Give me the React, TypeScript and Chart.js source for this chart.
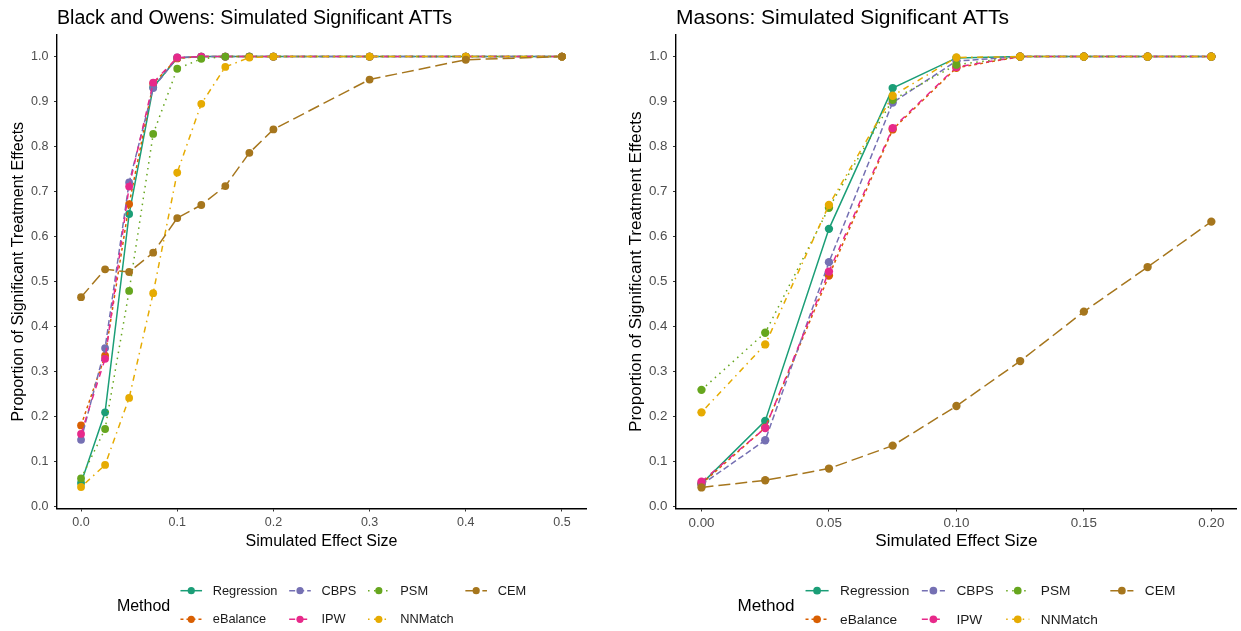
import React, { useEffect, useRef } from "react";
import { Chart, registerables } from "chart.js";

Chart.register(...registerables);

const FAMILY = '"Liberation Sans", Arial, Helvetica, sans-serif';

// Methods, in legend / drawing order
const METHODS = ["Regression", "eBalance", "CBPS", "IPW", "PSM", "NNMatch", "CEM"];
const COLORS = ["#1B9E77", "#D95F02", "#7570B3", "#E7298A", "#66A61E", "#E6AB02", "#A6761D"];
const DASHES: number[][] = [[], [3, 3], [6, 3], [6, 6], [1.5, 4.5], [1.5, 4.5, 6, 4.5], [12, 5]];

// Black and Owens simulation
const boEffect = [0, 0.025, 0.05, 0.075, 0.1, 0.125, 0.15, 0.175, 0.2, 0.3, 0.4, 0.5];
const boRegression = [0.052, 0.209, 0.65, 0.932, 0.997, 1, 1, 1, 1, 1, 1, 1];
const boEBalance = [0.18, 0.335, 0.672, 0.94, 0.996, 1, 1, 1, 1, 1, 1, 1];
const boCBPS = [0.148, 0.352, 0.72, 0.93, 0.998, 1, 1, 1, 1, 1, 1, 1];
const boIPW = [0.161, 0.328, 0.711, 0.942, 0.998, 1, 1, 1, 1, 1, 1, 1];
const boPSM = [0.062, 0.172, 0.479, 0.828, 0.973, 0.995, 1, 1, 1, 1, 1, 1];
const boNNMatch = [0.043, 0.092, 0.241, 0.474, 0.742, 0.895, 0.977, 0.998, 1, 1, 1, 1];
const boCEM = [0.465, 0.527, 0.521, 0.564, 0.641, 0.67, 0.712, 0.786, 0.838, 0.949, 0.993, 1];

// Masons simulation
const masonsEffect = [0, 0.025, 0.05, 0.075, 0.1, 0.125, 0.15, 0.175, 0.2];
const masonsRegression = [0.05, 0.19, 0.617, 0.93, 0.997, 1, 1, 1, 1];
const masonsEBalance = [0.05, 0.175, 0.513, 0.838, 0.975, 1, 1, 1, 1];
const masonsCBPS = [0.048, 0.147, 0.543, 0.898, 0.99, 1, 1, 1, 1];
const masonsIPW = [0.055, 0.174, 0.522, 0.841, 0.977, 1, 1, 1, 1];
const masonsPSM = [0.259, 0.386, 0.664, 0.904, 0.982, 1, 1, 1, 1];
const masonsNNMatch = [0.209, 0.36, 0.67, 0.913, 0.998, 1, 1, 1, 1];
const masonsCEM = [0.042, 0.058, 0.084, 0.135, 0.223, 0.323, 0.433, 0.532, 0.633];

// Axis ticks
const yTicks = [0, 0.1, 0.2, 0.3, 0.4, 0.5, 0.6, 0.7, 0.8, 0.9, 1.0];
const boXTicks = [0, 0.1, 0.2, 0.3, 0.4, 0.5];
const masonsXTicks = [0, 0.05, 0.1, 0.15, 0.2];

const Y_TITLE = "Proportion of Significant Treatment Effects";
const X_TITLE = "Simulated Effect Size";
const LEGEND_TITLE = "Method";

const W = 1241;
const H = 631;

// Panel title drawn flush with the left edge of the plotting area
const titlePlugin = {
  id: "panelTitle",
  afterDraw(chart: any, _args: any, opts: any) {
    const { ctx, chartArea } = chart;
    ctx.save();
    ctx.fillStyle = "#000";
    ctx.font = `${19.6 * opts.s}px ${FAMILY}`;
    ctx.textBaseline = "alphabetic";
    ctx.textAlign = "left";
    ctx.fillText(opts.text, chartArea.left, opts.baseline);
    ctx.restore();
  },
};

// Two-row legend below the panel, columns filled top to bottom
const legendPlugin = {
  id: "methodLegend",
  afterDraw(chart: any, _args: any, opts: any) {
    const { ctx, chartArea } = chart;
    const s = opts.s;
    const labelFont = `${12.8 * s}px ${FAMILY}`;
    const titleFont = `${16 * s}px ${FAMILY}`;
    ctx.save();
    ctx.font = titleFont;
    const titleW = ctx.measureText(LEGEND_TITLE).width;
    ctx.font = labelFont;
    const cols = [[0, 1], [2, 3], [4, 5], [6]];
    const colW = cols.map((c) => Math.max(...c.map((i) => ctx.measureText(METHODS[i]).width)));
    const dotToText = 21.5 * s;
    const textToDot = 22.5 * s;
    const titleToDot = 21 * s;
    const total =
      titleW + titleToDot + colW.reduce((a, w) => a + dotToText + w, 0) + textToDot * (cols.length - 1);
    let x = (chartArea.left + chartArea.right) / 2 - total / 2;
    const rows = [590.7, 619.3];

    ctx.fillStyle = "#000";
    ctx.font = titleFont;
    ctx.textBaseline = "middle";
    ctx.textAlign = "left";
    ctx.fillText(LEGEND_TITLE, x, 606.5);
    x += titleW + titleToDot;

    cols.forEach((c, ci) => {
      const dot = x;
      c.forEach((mi, ri) => {
        const y = rows[ri];
        ctx.save();
        ctx.strokeStyle = COLORS[mi];
        ctx.lineWidth = 1.5;
        ctx.setLineDash(DASHES[mi]);
        ctx.beginPath();
        ctx.moveTo(dot - 10.8 * s, y);
        ctx.lineTo(dot + 10.8 * s, y);
        ctx.stroke();
        ctx.restore();
        ctx.fillStyle = COLORS[mi];
        ctx.beginPath();
        ctx.arc(dot, y, 3.6 * s, 0, Math.PI * 2);
        ctx.fill();
        ctx.fillStyle = "#1a1a1a";
        ctx.font = labelFont;
        ctx.fillText(METHODS[mi], dot + dotToText, y + 0.5);
      });
      x = dot + dotToText + colW[ci] + textToDot;
    });
    ctx.restore();
  },
};

type PanelProps = {
  title: string;
  effect: number[];
  series: number[][];
  xTicks: number[];
  xDecimals: number;
  xMin: number;
  xMax: number;
  s: number;
  yAxisWidth: number;
  padRight: number;
  yTitlePad: number;
  width: number;
  left: number;
};

function Panel(p: PanelProps) {
  const ref = useRef<HTMLCanvasElement | null>(null);

  useEffect(() => {
    if (!ref.current) return;
    const datasets = METHODS.map((m, i) => ({
      label: m,
      data: p.effect.map((x, j) => ({ x, y: p.series[i][j] })),
      borderColor: COLORS[i],
      backgroundColor: COLORS[i],
      borderDash: DASHES[i],
      borderWidth: 1.5,
      pointRadius: 3.9 * p.s,
      pointBorderWidth: 0,
      pointHoverRadius: 3.9 * p.s,
      tension: 0,
      fill: false,
      order: METHODS.length - i,
    }));

    const tickFont = { family: FAMILY, size: 12.5 * p.s };
    const titleFont = { family: FAMILY, size: 16 * p.s };
    const bottomPad = 71;
    const plotBottom = 508.5;

    const chart = new Chart(ref.current, {
      type: "line",
      data: { datasets },
      plugins: [titlePlugin, legendPlugin],
      options: {
        animation: false,
        responsive: false,
        events: [],
        layout: { padding: { left: 0, right: p.padRight, top: 35, bottom: bottomPad } },
        plugins: {
          legend: { display: false },
          tooltip: { enabled: false },
          title: { display: false },
          panelTitle: { text: p.title, s: p.s, baseline: 23.5 },
          methodLegend: { s: p.s },
        } as any,
        scales: {
          x: {
            type: "linear",
            min: p.xMin,
            max: p.xMax,
            afterBuildTicks: (scale: any) => {
              scale.ticks = p.xTicks.map((v) => ({ value: v }));
            },
            afterFit: (scale: any) => {
              scale.height = H - bottomPad - plotBottom;
            },
            ticks: {
              color: "#4D4D4D",
              font: tickFont,
              padding: 4,
              maxRotation: 0,
              autoSkip: false,
              callback: (v: any) => Number(v).toFixed(p.xDecimals),
            },
            grid: {
              display: true,
              drawOnChartArea: false,
              drawTicks: true,
              tickLength: 3,
              color: "#333333",
              lineWidth: 1,
            },
            border: { display: true, color: "#000", width: 1.4 },
            title: {
              display: true,
              text: X_TITLE,
              color: "#000",
              font: titleFont,
              padding: { top: 0, bottom: 8.7 },
            },
          },
          y: {
            type: "linear",
            min: -0.0048,
            max: 1.048,
            afterBuildTicks: (scale: any) => {
              scale.ticks = yTicks.map((v) => ({ value: v }));
            },
            afterFit: (scale: any) => {
              scale.width = p.yAxisWidth;
            },
            ticks: {
              color: "#4D4D4D",
              font: tickFont,
              padding: 5.5,
              autoSkip: false,
              callback: (v: any) => Number(v).toFixed(1),
            },
            grid: {
              display: true,
              drawOnChartArea: false,
              drawTicks: true,
              tickLength: 3,
              color: "#333333",
              lineWidth: 1,
            },
            border: { display: true, color: "#000", width: 1.4 },
            title: {
              display: true,
              text: Y_TITLE,
              color: "#000",
              font: titleFont,
              padding: { top: p.yTitlePad, bottom: 0 },
            },
          },
        },
      } as any,
    });
    return () => chart.destroy();
  }, []);

  return (
    <canvas
      ref={ref}
      width={p.width}
      height={H}
      style={{ position: "absolute", left: p.left, top: 0, width: p.width, height: H }}
    />
  );
}

export default function App() {
  return (
    <div style={{ position: "absolute", left: 0, top: 0, width: W, height: H, background: "#fff" }}>
      <Panel
        title="Black and Owens: Simulated Significant ATTs"
        effect={boEffect}
        series={[boRegression, boEBalance, boCBPS, boIPW, boPSM, boNNMatch, boCEM]}
        xTicks={boXTicks}
        xDecimals={1}
        xMin={-0.025}
        xMax={0.525}
        s={1}
        yAxisWidth={57}
        padRight={34}
        yTitlePad={9.4}
        width={620}
        left={0}
      />
      <Panel
        title="Masons: Simulated Significant ATTs"
        effect={masonsEffect}
        series={[masonsRegression, masonsEBalance, masonsCBPS, masonsIPW, masonsPSM, masonsNNMatch, masonsCEM]}
        xTicks={masonsXTicks}
        xDecimals={2}
        xMin={-0.01}
        xMax={0.21}
        s={1.07}
        yAxisWidth={56}
        padRight={0}
        yTitlePad={5.8}
        width={621}
        left={620}
      />
    </div>
  );
}
